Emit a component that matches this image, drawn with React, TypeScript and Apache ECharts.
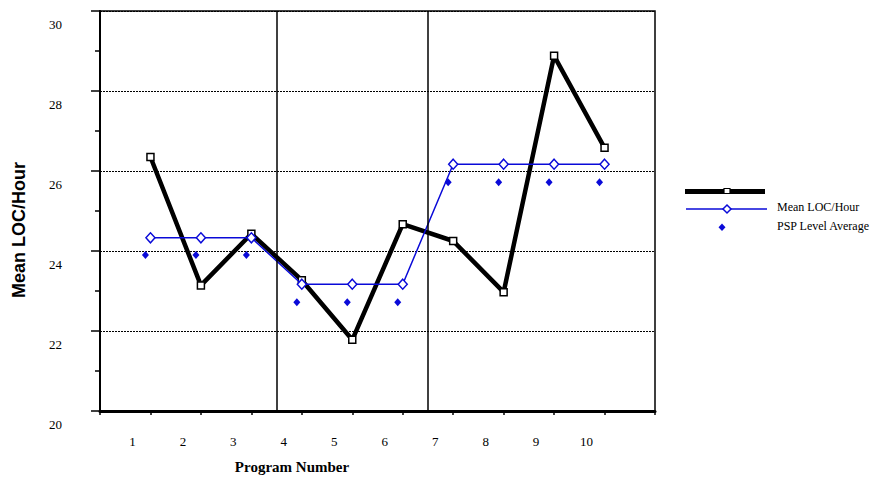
import React, { useEffect, useRef } from "react";
import * as echarts from "echarts";

const programs = [1, 2, 3, 4, 5, 6, 7, 8, 9, 10];
const xLabels = ["1", "2", "3", "4", "5", "6", "7", "8", "9", "10"];
const meanLoc = [26.35, 23.14, 24.43, 23.27, 21.78, 24.67, 24.25, 22.97, 28.88, 26.58];
const levelLine = [24.33, 24.33, 24.33, 23.17, 23.17, 23.17, 26.17, 26.17, 26.17, 26.17];
const pspLevelAverage = [23.9, 23.9, 23.9, 22.72, 22.72, 22.72, 25.72, 25.72, 25.72, 25.72];
const phaseBreaks = [3.5, 6.5];
const yTicks = [20, 22, 24, 26, 28, 30];

const BLUE = "#0a0ad8";
const SERIF = "'Liberation Serif', 'Times New Roman', serif";
const SANS = "'Liberation Sans', Arial, sans-serif";

export default function App() {
  const ref = useRef<HTMLDivElement>(null);
  useEffect(() => {
    if (!ref.current) return;
    const chart = echarts.init(ref.current, undefined, { renderer: "svg" });
    const pair = (arr: number[]) => programs.map((p, i) => [p, arr[i]]);
    chart.setOption({
      animation: false,
      backgroundColor: "#fff",
      grid: {
        left: 100,
        top: 11,
        width: 555,
        height: 400,
        show: true,
        borderColor: "#000",
        borderWidth: 1.5,
        backgroundColor: "transparent",
      },
      xAxis: {
        type: "value",
        min: 0,
        max: 11,
        interval: 1,
        axisLine: { show: true, onZero: false, lineStyle: { color: "#000", width: 3 } },
        axisTick: { show: true, length: 4, lineStyle: { color: "#000", width: 1.5 } },
        splitLine: { show: false },
        axisLabel: {
          color: "#000",
          fontFamily: SERIF,
          fontSize: 13,
          margin: 24,
          padding: [0, 36, 0, 0],
          showMinLabel: true,
          showMaxLabel: true,
          formatter: (v: number) => {
            const i = programs.indexOf(v);
            return i >= 0 ? xLabels[i] : "";
          },
        },
      },
      yAxis: {
        type: "value",
        min: 20,
        max: 30,
        interval: 2,
        axisLine: { show: true, lineStyle: { color: "#000", width: 2 } },
        axisTick: { show: true, length: 9, lineStyle: { color: "#000", width: 1.5 } },
        minorTick: { show: true, splitNumber: 2, length: 5, lineStyle: { color: "#000", width: 1.5 } },
        splitLine: { show: true, lineStyle: { color: "#000", width: 1, type: [2, 1] } },
        axisLabel: {
          color: "#000",
          fontFamily: SERIF,
          fontSize: 13,
          margin: 38,
          verticalAlign: "top",
          lineHeight: 26,
          formatter: (v: number) => (yTicks.includes(v) ? String(v) : ""),
        },
      },
      series: [
        {
          name: "Mean LOC/Hour",
          type: "line",
          data: pair(meanLoc),
          z: 3,
          symbol: "rect",
          symbolSize: 7,
          showAllSymbol: true,
          lineStyle: { color: "#000", width: 4.5 },
          itemStyle: { color: "#fff", borderColor: "#000", borderWidth: 1.5 },
          markLine: {
            silent: true,
            symbol: "none",
            label: { show: false },
            lineStyle: { color: "#000", width: 1.5, type: "solid" },
            data: phaseBreaks.map((b) => ({ xAxis: b })),
          },
        },
        {
          name: "Level",
          type: "line",
          data: pair(levelLine),
          z: 4,
          symbol: "diamond",
          symbolSize: [9, 10],
          showAllSymbol: true,
          lineStyle: { color: BLUE, width: 1.5 },
          itemStyle: { color: "#fff", borderColor: BLUE, borderWidth: 1.5 },
        },
        {
          name: "PSP Level Average",
          type: "scatter",
          data: pair(pspLevelAverage),
          z: 4,
          symbol: "diamond",
          symbolSize: [7, 8],
          symbolOffset: [-5, 0],
          itemStyle: { color: BLUE, opacity: 1 },
        },
      ],
      graphic: [
        {
          type: "text",
          x: 292,
          y: 467,
          style: {
            text: "Program Number",
            font: `bold 15px ${SERIF}`,
            fill: "#000",
            align: "center",
            verticalAlign: "middle",
          },
        },
        {
          type: "text",
          x: 19,
          y: 230,
          rotation: Math.PI / 2,
          style: {
            text: "Mean LOC/Hour",
            font: `bold 18px ${SANS}`,
            fill: "#000",
            align: "center",
            verticalAlign: "middle",
          },
        },
        // legend
        {
          type: "line",
          shape: { x1: 685, y1: 191.5, x2: 765, y2: 191.5 },
          style: { stroke: "#000", lineWidth: 5 },
        },
        {
          type: "rect",
          shape: { x: 724, y: 188.5, width: 6, height: 5 },
          style: { fill: "#fff", stroke: "#000", lineWidth: 1.2 },
        },
        {
          type: "line",
          shape: { x1: 686, y1: 209, x2: 767, y2: 209 },
          style: { stroke: BLUE, lineWidth: 1.5 },
        },
        {
          type: "polygon",
          shape: { points: [[727, 205], [731, 209], [727, 213], [723, 209]] },
          style: { fill: "#fff", stroke: BLUE, lineWidth: 1.5 },
        },
        {
          type: "polygon",
          shape: { points: [[722, 223.5], [725.5, 227.3], [722, 231], [718.5, 227.3]] },
          style: { fill: BLUE },
        },
        {
          type: "text",
          x: 777,
          y: 207,
          style: {
            text: "Mean LOC/Hour",
            font: `12px ${SERIF}`,
            fill: "#000",
            verticalAlign: "middle",
          },
        },
        {
          type: "text",
          x: 777,
          y: 226,
          style: {
            text: "PSP Level Average",
            font: `12px ${SERIF}`,
            fill: "#000",
            verticalAlign: "middle",
          },
        },
      ],
    });
    return () => chart.dispose();
  }, []);
  return (
    <div
      ref={ref}
      style={{ position: "fixed", left: 0, top: 0, width: 878, height: 480, background: "#fff" }}
    />
  );
}
